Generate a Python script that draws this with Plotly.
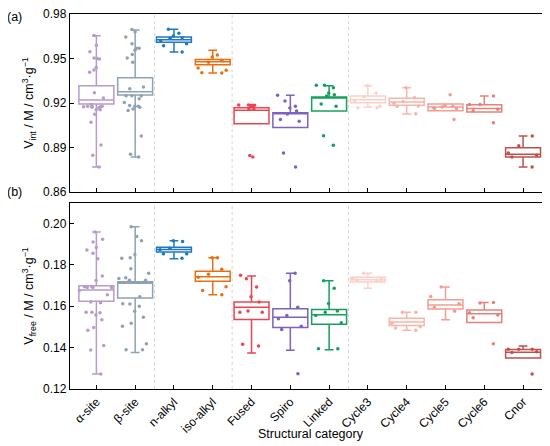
import plotly.graph_objects as go
from plotly.subplots import make_subplots

# ---------------- data ----------------
categories = ["α-site", "β-site", "n-alkyl", "iso-alkyl", "Fused", "Spiro",
              "Linked", "Cycle3", "Cycle4", "Cycle5", "Cycle6", "Cnor"]
colors = ["#b79bc9", "#8fa2b4", "#1f78c4", "#ea6f12", "#ea4550", "#7d62bf",
          "#14a05c", "#fbd0c9", "#f7b5aa", "#f09d93", "#e2827a", "#c0504f"]

# V_int box statistics
vint_q1 = [0.9193, 0.9254, 0.9610, 0.9458, 0.9060, 0.9036, 0.9146, 0.9202, 0.9185, 0.9148, 0.9140, 0.8836]
vint_med = [0.9220, 0.9276, 0.9627, 0.9479, 0.9151, 0.9130, 0.9238, 0.9222, 0.9207, 0.9173, 0.9164, 0.8856]
vint_q3 = [0.9317, 0.9371, 0.9645, 0.9494, 0.9168, 0.9135, 0.9241, 0.9247, 0.9232, 0.9193, 0.9189, 0.8899]
vint_lo = [0.8769, 0.8836, 0.9544, 0.9402, 0.9168, 0.9067, 0.9180, 0.9173, 0.9126, 0.9148, 0.9140, 0.8769]
vint_hi = [0.9654, 0.9692, 0.9697, 0.9555, 0.9187, 0.9252, 0.9317, 0.9317, 0.9303, 0.9193, 0.9247, 0.8978]

# V_int individual values
vint_pts = [
    [0.9656, 0.9590, 0.9546, 0.9504, 0.9500, 0.9497, 0.9440, 0.9422, 0.9407, 0.9270, 0.9234, 0.9190, 0.9178,
     0.9178, 0.9178, 0.9176, 0.9175, 0.9172, 0.9168, 0.9155, 0.9155, 0.9124, 0.9070, 0.8917, 0.8848, 0.8769],
    [0.9696, 0.9680, 0.9645, 0.9600, 0.9569, 0.9569, 0.9555, 0.9528, 0.9504, 0.9475, 0.9308, 0.9297, 0.9249,
     0.9249, 0.9249, 0.9229, 0.9203, 0.9183, 0.9178, 0.9178, 0.9172, 0.9160, 0.9150, 0.8978, 0.8856, 0.8836],
    [0.9698, 0.9670, 0.9652, 0.9640, 0.9637, 0.9620, 0.9600, 0.9586, 0.9544],
    [0.9524, 0.9510, 0.9488, 0.9475, 0.9436, 0.9421, 0.9404, 0.9402],
    [0.9187, 0.9182, 0.9180, 0.9187, 0.9185, 0.9186, 0.9160, 0.9158, 0.8847, 0.8836],
    [0.9252, 0.9214, 0.9178, 0.9166, 0.9146, 0.9126, 0.9090, 0.9077, 0.8863, 0.8769],
    [0.9320, 0.9320, 0.9303, 0.9268, 0.9256, 0.9247, 0.9193, 0.9178, 0.8980, 0.8915],
    [0.9317, 0.9268, 0.9243, 0.9214, 0.9178, 0.9168, 0.9168],
    [0.9303, 0.9236, 0.9210, 0.9198, 0.9180, 0.9178, 0.9128],
    [0.9256, 0.9185, 0.9178, 0.9173, 0.9170, 0.9163, 0.9163, 0.9090],
    [0.9247, 0.9190, 0.9190, 0.9158, 0.9148, 0.9067],
    [0.8978, 0.8912, 0.8863, 0.8848, 0.8836, 0.8769],
]

# V_free box statistics
vfree_q1 = [0.1624, 0.1639, 0.1862, 0.1720, 0.1536, 0.1497, 0.1513, 0.1716, 0.1507, 0.1586, 0.1521, 0.1350]
vfree_med = [0.1678, 0.1710, 0.1873, 0.1742, 0.1595, 0.1547, 0.1558, 0.1728, 0.1523, 0.1605, 0.1563, 0.1378]
vfree_q3 = [0.1699, 0.1718, 0.1884, 0.1768, 0.1620, 0.1587, 0.1584, 0.1739, 0.1541, 0.1631, 0.1582, 0.1391]
vfree_lo = [0.1273, 0.1376, 0.1829, 0.1655, 0.1374, 0.1387, 0.1389, 0.1687, 0.1484, 0.1534, 0.1547, 0.1358]
vfree_hi = [0.1958, 0.1983, 0.1916, 0.1834, 0.1745, 0.1759, 0.1723, 0.1759, 0.1571, 0.1692, 0.1618, 0.1407]

# V_free individual values
vfree_pts = [
    [0.1958, 0.1923, 0.1910, 0.1883, 0.1871, 0.1855, 0.1829, 0.1746, 0.1724, 0.1694, 0.1694, 0.1690, 0.1690, 0.1690,
     0.1675, 0.1655, 0.1620, 0.1617, 0.1570, 0.1570, 0.1568, 0.1557, 0.1534, 0.1497, 0.1484, 0.1410, 0.1388, 0.1273],
    [0.1983, 0.1936, 0.1916, 0.1849, 0.1834, 0.1831, 0.1781, 0.1759, 0.1737, 0.1733, 0.1725, 0.1725,
     0.1645, 0.1611, 0.1610, 0.1599, 0.1575, 0.1547, 0.1518, 0.1503, 0.1418, 0.1389, 0.1389],
    [0.1916, 0.1912, 0.1879, 0.1872, 0.1853, 0.1853, 0.1831],
    [0.1834, 0.1834, 0.1778, 0.1754, 0.1740, 0.1694, 0.1676, 0.1655],
    [0.1749, 0.1732, 0.1692, 0.1645, 0.1620, 0.1576, 0.1571, 0.1571, 0.1416, 0.1407],
    [0.1759, 0.1723, 0.1595, 0.1555, 0.1539, 0.1503, 0.1487, 0.1274],
    [0.1723, 0.1687, 0.1613, 0.1576, 0.1571, 0.1555, 0.1520, 0.1394, 0.1394],
    [0.1759, 0.1735, 0.1730, 0.1727, 0.1725],
    [0.1571, 0.1571, 0.1518, 0.1500, 0.1495, 0.1484],
    [0.1692, 0.1647, 0.1611, 0.1595, 0.1575],
    [0.1618, 0.1615, 0.1568, 0.1557, 0.1544, 0.1418],
    [0.1392, 0.1392, 0.1392, 0.1380, 0.1376, 0.1273],
]

group_breaks = [1.5, 3.5, 6.5]

# ---------------- figure ----------------
fig = make_subplots(rows=2, cols=1, shared_xaxes=False, vertical_spacing=0.03)

panels = [
    (1, vint_q1, vint_med, vint_q3, vint_lo, vint_hi, vint_pts),
    (2, vfree_q1, vfree_med, vfree_q3, vfree_lo, vfree_hi, vfree_pts),
]

for row, q1, med, q3, lo, hi, pts in panels:
    for i, cat in enumerate(categories):
        c = colors[i]
        # box with precomputed stats
        fig.add_trace(go.Box(
            x=[i], q1=[q1[i]], median=[med[i]], q3=[q3[i]],
            lowerfence=[lo[i]], upperfence=[hi[i]],
            width=0.9, whiskerwidth=0.25,
            line=dict(color=c, width=1.5), fillcolor="rgba(255,255,255,0)",
            boxpoints=False, showlegend=False, name=cat,
        ), row=row, col=1)
        # jittered sample points
        fig.add_trace(go.Box(
            x=[i] * len(pts[i]), y=pts[i],
            width=0.9, boxpoints="all", jitter=1.0, pointpos=0,
            line=dict(color="rgba(0,0,0,0)", width=0), fillcolor="rgba(0,0,0,0)",
            marker=dict(color=c, size=3.5),
            showlegend=False, name=cat, hoveron="points",
        ), row=row, col=1)

axis_common = dict(
    showline=True, linecolor="black", linewidth=1.3, mirror=True,
    ticks="inside", ticklen=4, tickcolor="black", showgrid=False, zeroline=False,
)

fig.update_xaxes(axis_common, range=[-0.68, 11.72],
                 tickmode="array", tickvals=list(range(len(categories))))
fig.update_yaxes(axis_common, tickformat=".2f", tickfont=dict(size=12),
                 ticklabeloverflow="allow")

# dotted separators between structural groups
for xr, yr in [("x", "y domain"), ("x2", "y2 domain")]:
    for b in group_breaks:
        fig.add_shape(type="line", xref=xr, yref=yr, x0=b, x1=b, y0=0, y1=1,
                      line=dict(color="#d4d4d4", width=1, dash="dot"), layer="below")

fig.add_annotation(text="(a)", xref="paper", yref="paper", x=-0.135, y=1.016,
                   showarrow=False, font=dict(size=12.5), xanchor="left", yanchor="top")
fig.add_annotation(text="(b)", xref="paper", yref="paper", x=-0.135, y=0.525,
                   showarrow=False, font=dict(size=12.5), xanchor="left", yanchor="middle")
fig.add_annotation(text="Structural category", xref="paper", yref="paper", x=0.5, y=-0.12,
                   showarrow=False, font=dict(size=12.5), xanchor="center", yanchor="middle")

fig.update_layout(
    width=550, height=446,
    margin=dict(l=62, r=7, t=6, b=65, autoexpand=False),
    boxmode="overlay",
    plot_bgcolor="white", paper_bgcolor="white",
    font=dict(family="Liberation Sans, Arial, sans-serif", color="black"),
    xaxis=dict(showticklabels=False),
    xaxis2=dict(ticktext=categories, tickangle=-45, tickfont=dict(size=12)),
    yaxis=dict(domain=[0.525, 1.0], range=[0.86, 0.98],
               tickvals=[0.86, 0.89, 0.92, 0.95, 0.98],
               title=dict(text="V<sub>int</sub> / M / cm<sup>3</sup>·g<sup>−1</sup>",
                          font=dict(size=12.5), standoff=6)),
    yaxis2=dict(domain=[0.0, 0.496], range=[0.12, 0.2098],
                tickvals=[0.12, 0.14, 0.16, 0.18, 0.20],
                title=dict(text="V<sub>free</sub> / M / cm<sup>3</sup>·g<sup>−1</sup>",
                           font=dict(size=12.5), standoff=6)),
)

fig.write_html("out.html")
